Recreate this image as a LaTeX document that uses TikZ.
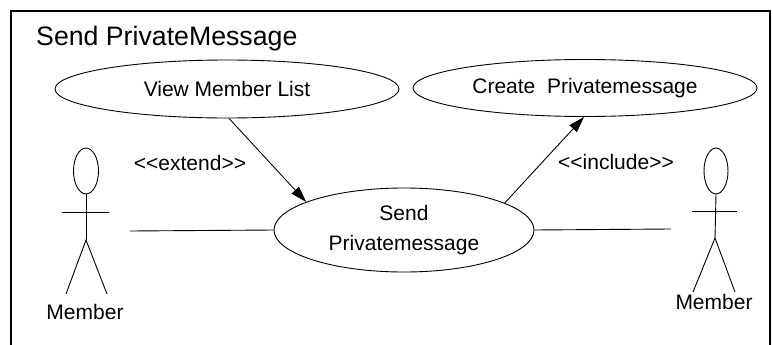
\documentclass[tikz,border=0pt]{standalone}
\usepackage{fontspec}
\setmainfont{Liberation Sans}
\usetikzlibrary{shapes.geometric,arrows.meta}
\begin{document}
\begin{tikzpicture}[x=1pt,y=-1pt,
  usecase/.style={draw, ellipse, inner sep=0pt, line width=0.9pt,
    font=\fontsize{21}{30}\selectfont, align=center},
  lbl/.style={inner sep=0pt, font=\fontsize{21}{25}\selectfont},
  head/.style={draw, ellipse, inner sep=0pt, line width=0.9pt,
    minimum width=25pt, minimum height=46pt},
  limb/.style={line width=0.9pt},
  link/.style={line width=0.9pt},
  dep/.style={link, -{Triangle[length=16pt,width=10pt]}}]
\useasboundingbox (0,0) rectangle (773,345);

% system boundary
\draw[line width=1.6pt] (11,352) -- (11,11) -- (770,11) -- (770,352);
\node[inner sep=0pt, anchor=base west, font=\fontsize{26.7}{30}\selectfont]
  (title) at (36,46) {Send PrivateMessage};

% use cases
\node[usecase, minimum width=344pt, minimum height=58pt] (view) at (227,89) {View Member List};
\node[usecase, minimum width=344pt, minimum height=57pt] (create) at (585,88) {Create\ \ Privatemessage};
\node[usecase, minimum width=260pt, minimum height=84pt] (send) at (404,230) {Send\\Privatemessage};

% left actor
\node[head] (lhead) at (86,171) {};
\coordinate (lhip) at (86,240);
\coordinate (larmL) at (62,212);
\coordinate (larmR) at (109,212);
\coordinate (lfootL) at (66,294);
\coordinate (lfootR) at (107,294);
\draw[limb] (lhead.south) -- (lhip);
\draw[limb] (larmL) -- (larmR);
\draw[limb] (lfootL) -- (lhip) -- (lfootR);
\node[lbl] (lname) at (85,312) {Member};

% right actor
\node[head, minimum width=24pt] (rhead) at (716,171) {};
\coordinate (rhip) at (715,238);
\coordinate (rarmL) at (692,211);
\coordinate (rarmR) at (737,211);
\coordinate (rfootL) at (693,292);
\coordinate (rfootR) at (735,292);
\draw[limb] (rhead.south) -- (rhip);
\draw[limb] (rarmL) -- (rarmR);
\draw[limb] (rfootL) -- (rhip) -- (rfootR);
\node[lbl] (rname) at (714,302) {Member};

% associations
\coordinate (lhand) at (130,231);
\coordinate (rhand) at (671,229);
\draw[link] (lhand) -- (send.west);
\draw[link] (send.east) -- (rhand);

% dependencies
\draw[dep] (view.274) -- (send.164);
\draw[dep] (send.15) -- (create.268);
\node[lbl] (extend) at (190,163) {<{}<extend>{}>};
\node[lbl] (include) at (616,162) {<{}<include>{}>};
\end{tikzpicture}
\end{document}
